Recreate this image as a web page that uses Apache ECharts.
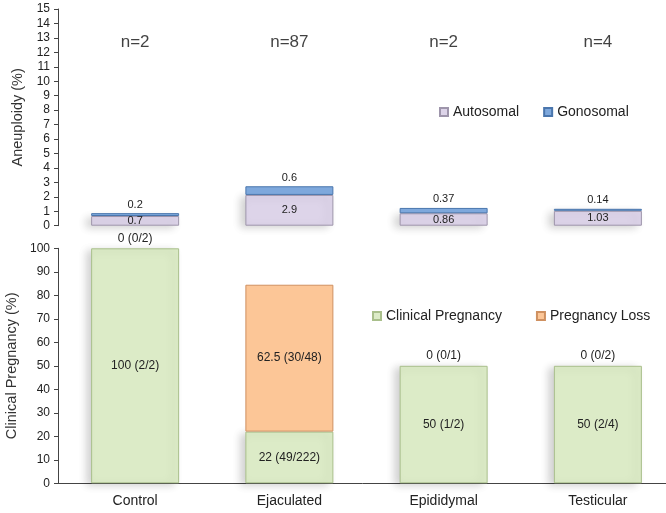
<!DOCTYPE html>
<html>
<head>
<meta charset="utf-8">
<script src="https://cdn.jsdelivr.net/npm/echarts@6/dist/echarts.min.js"></script>
<style>html,body{margin:0;padding:0;background:#fff}#c{width:666px;height:513px}</style>
</head>
<body>
<div id="c"></div>
<script>
// ---- data ----
var categories = ['Control', 'Ejaculated', 'Epididymal', 'Testicular'];
var nLabels = ['n=2', 'n=87', 'n=2', 'n=4'];
var nLabelLevel = [12.7, 12.7, 12.7, 12.7];
// aneuploidy (%) - drawn bar heights
var autosomal = [0.67, 2.13, 0.86, 1.03];
var autosomalLabels = ['0.7', '2.9', '0.86', '1.03'];
var gonosomal = [0.2, 0.6, 0.37, 0.14];
var gonosomalLabels = ['0.2', '0.6', '0.37', '0.14'];
// clinical pregnancy (%)
var clinicalPregnancy = [100, 22, 50, 50];
var clinicalLabels = ['100 (2/2)', '22 (49/222)', '50 (1/2)', '50 (2/4)'];
var pregnancyLoss = [0, 62.5, 0, 0];
var lossLabels = ['0 (0/2)', '62.5 (30/48)', '0 (0/1)', '0 (0/2)'];
var aneuploidyTicks = {min: 0, max: 15, interval: 1};
var pregnancyTicks = {min: 0, max: 100, interval: 10};

var FONT = '"Liberation Sans", Arial, sans-serif';
var chart = echarts.init(document.getElementById('c'), null, {renderer: 'canvas'});

function yAxisCommon(gridIndex, ticks, name, gap) {
  return {
    type: 'value', gridIndex: gridIndex,
    min: ticks.min, max: ticks.max, interval: ticks.interval,
    name: name, nameLocation: 'middle', nameGap: gap,
    nameTextStyle: {fontFamily: FONT, fontSize: 14.5, color: '#333'},
    axisLine: {show: true, lineStyle: {color: '#444', width: 1}},
    axisTick: {show: true, length: 4, lineStyle: {color: '#444'}},
    axisLabel: {fontFamily: FONT, fontSize: 12, color: '#222', margin: 8},
    splitLine: {show: false}
  };
}

var shadow = {shadowColor: 'rgba(0,0,0,0.18)', shadowBlur: 8, shadowOffsetX: -5, shadowOffsetY: 2};

var option = {
  backgroundColor: '#ffffff',
  animation: false,
  grid: [
    {left: 58, width: 617, top: 9, height: 216.7, outerBoundsMode: 'none', containLabel: false},
    {left: 58, width: 617, top: 248.3, height: 235, outerBoundsMode: 'none', containLabel: false}
  ],
  legend: [
    {data: ['Autosomal', 'Gonosomal'], left: 434, top: 100, itemWidth: 8, itemHeight: 8, itemGap: 24,
     icon: 'rect', textStyle: {fontFamily: FONT, fontSize: 14, color: '#222'}},
    {data: ['Clinical Pregnancy', 'Pregnancy Loss'], left: 367, top: 304, itemWidth: 8, itemHeight: 8, itemGap: 34,
     icon: 'rect', textStyle: {fontFamily: FONT, fontSize: 14, color: '#222'}}
  ],
  xAxis: [
    {type: 'category', gridIndex: 0, data: categories,
     axisLine: {show: false}, axisTick: {show: false}, axisLabel: {show: false}},
    {type: 'category', gridIndex: 1, data: categories, offset: 3,
     axisLine: {show: true, lineStyle: {color: '#444', width: 1}}, axisTick: {show: false},
     axisLabel: {fontFamily: FONT, fontSize: 14, color: '#222', margin: 8}}
  ],
  yAxis: [
    yAxisCommon(0, aneuploidyTicks, 'Aneuploidy (%)', 32),
    yAxisCommon(1, pregnancyTicks, 'Clinical Pregnancy (%)', 38)
  ],
  series: [
    {name: 'Autosomal', type: 'bar', stack: 'a', xAxisIndex: 0, yAxisIndex: 0, barWidth: 88,
     itemStyle: Object.assign({color: '#ddd4e9', borderColor: '#9e95ab', borderWidth: 1}, shadow),
     label: {show: true, position: 'inside', fontFamily: FONT, fontSize: 11, color: '#222',
       formatter: function (p) { return autosomalLabels[p.dataIndex]; }},
     data: autosomal},
    {name: 'Gonosomal', type: 'bar', stack: 'a', xAxisIndex: 0, yAxisIndex: 0, barWidth: 88,
     itemStyle: {color: '#7ea8dc', borderColor: '#4a76ad', borderWidth: 1},
     label: {show: true, position: 'top', distance: 3, fontFamily: FONT, fontSize: 11, color: '#222',
       formatter: function (p) { return gonosomalLabels[p.dataIndex]; }},
     data: gonosomal},
    {name: 'nLabels', type: 'scatter', xAxisIndex: 0, yAxisIndex: 0, symbolSize: 0, silent: true,
     label: {show: true, position: 'inside', fontFamily: FONT, fontSize: 17, color: '#111',
       formatter: function (p) { return nLabels[p.dataIndex]; }},
     data: nLabelLevel},
    {name: 'Clinical Pregnancy', type: 'bar', stack: 'p', xAxisIndex: 1, yAxisIndex: 1, barWidth: 88,
     itemStyle: Object.assign({color: '#dcebc7', borderColor: '#a9bf8b', borderWidth: 1}, shadow),
     label: {show: true, position: 'inside', fontFamily: FONT, fontSize: 12, color: '#222',
       formatter: function (p) { return clinicalLabels[p.dataIndex]; }},
     data: clinicalPregnancy},
    {name: 'Pregnancy Loss', type: 'bar', stack: 'p', xAxisIndex: 1, yAxisIndex: 1, barWidth: 88,
     itemStyle: {color: '#fcc697', borderColor: '#cf9060', borderWidth: 1},
     label: {show: true, fontFamily: FONT, fontSize: 12, color: '#222',
       formatter: function (p) { return lossLabels[p.dataIndex]; }},
     data: pregnancyLoss.map(function (v) {
       return {value: v, itemStyle: {borderWidth: v > 0 ? 1 : 0},
               label: {position: v > 0 ? 'inside' : 'top', distance: 4}};
     })}
  ]
};
chart.setOption(option);
</script>
</body>
</html>
